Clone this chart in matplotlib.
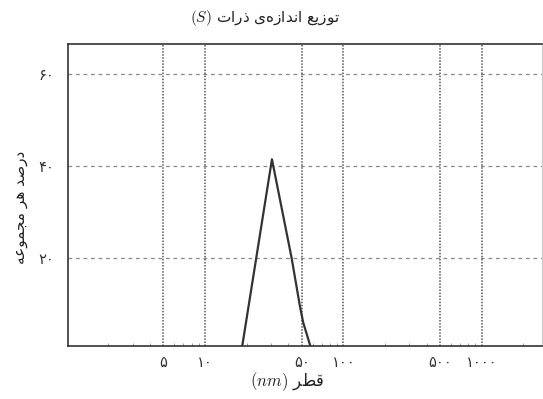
import matplotlib
matplotlib.use("Agg")
import matplotlib.pyplot as plt
from matplotlib.ticker import FixedLocator, LogLocator, NullFormatter

plt.rcParams['font.family'] = ['DejaVu Sans']
plt.rcParams['mathtext.fontset'] = 'cm'

# داده‌ها
diam = [18.4, 30.5, 42.3, 48.6, 51.3, 59.0]
percent = [0, 41.4, 20, 9.5, 6, 0]

x_ticks = [5, 10, 50, 100, 500, 1000]
x_tick_labels = ['۵', '۱۰', '۵۰', '۱۰۰', '۵۰۰', '۱۰۰۰']
y_ticks = [20, 40, 60]
y_tick_labels = ['۲۰', '۴۰', '۶۰']

title_fa = 'توزیع اندازه‌ی ذرات'
xlabel_fa = 'قطر'
ylabel_fa = 'درصد هر مجموعه'

# matplotlib حروف را به هم نمی‌چسباند، پس شکل‌ها را دستی انتخاب می‌کنیم
# (تنها, پایانی, آغازی, میانی)
FORMS = {
    'ا': ('\uFE8D', '\uFE8E', None, None),
    'ت': ('\uFE95', '\uFE96', '\uFE97', '\uFE98'),
    'ج': ('\uFE9D', '\uFE9E', '\uFE9F', '\uFEA0'),
    'د': ('\uFEA9', '\uFEAA', None, None),
    'ذ': ('\uFEAB', '\uFEAC', None, None),
    'ر': ('\uFEAD', '\uFEAE', None, None),
    'ز': ('\uFEAF', '\uFEB0', None, None),
    'ص': ('\uFEB9', '\uFEBA', '\uFEBB', '\uFEBC'),
    'ط': ('\uFEC1', '\uFEC2', '\uFEC3', '\uFEC4'),
    'ع': ('\uFEC9', '\uFECA', '\uFECB', '\uFECC'),
    'ق': ('\uFED5', '\uFED6', '\uFED7', '\uFED8'),
    'م': ('\uFEE1', '\uFEE2', '\uFEE3', '\uFEE4'),
    'ن': ('\uFEE5', '\uFEE6', '\uFEE7', '\uFEE8'),
    'ه': ('\uFEE9', '\uFEEA', '\uFEEB', '\uFEEC'),
    'و': ('\uFEED', '\uFEEE', None, None),
    'ی': ('\uFEEF', '\uFEF0', '\uFEF3', '\uFEF4'),
}


def shape(text):
    out = []
    n = len(text)
    for i, c in enumerate(text):
        if c not in FORMS:
            if c != '\u200c':
                out.append(c)
            continue
        prev = text[i - 1] if i > 0 else ''
        nxt = text[i + 1] if i < n - 1 else ''
        join_prev = prev in FORMS and FORMS[prev][2] is not None
        join_next = nxt in FORMS and FORMS[c][2] is not None
        iso, fin, ini, med = FORMS[c]
        if join_prev and join_next:
            out.append(med)
        elif join_prev:
            out.append(fin)
        elif join_next:
            out.append(ini)
        else:
            out.append(iso)
    return ''.join(out)[::-1]


fig = plt.figure(figsize=(5.43, 3.99), dpi=100)
ax = fig.add_axes([0.1258, 0.1316, 0.8725, 0.7581])

ax.plot(diam, percent, color='#333333', lw=1.6)

ax.set_xscale('log')
ax.set_xlim(1.03, 2730)
ax.set_ylim(0.8, 66.4)

ax.xaxis.set_major_locator(FixedLocator(x_ticks))
ax.set_xticklabels(x_tick_labels)
ax.xaxis.set_minor_locator(LogLocator(base=10, subs=range(2, 10), numticks=20))
ax.xaxis.set_minor_formatter(NullFormatter())
ax.set_yticks(y_ticks)
ax.set_yticklabels(y_tick_labels)

ax.tick_params(axis='x', which='major', length=0, pad=6, labelsize=10.5, colors='#333333')
ax.tick_params(axis='x', which='minor', length=2.5, direction='in', color='#888888')
ax.tick_params(axis='y', which='major', length=0, pad=10, labelsize=10.5, colors='#333333')

for t in x_ticks:
    ax.axvline(t, color='#555555', lw=1.1, ls=(0, (1, 1)), zorder=0)
for t in y_ticks:
    ax.axhline(t, color='#888888', lw=0.9, ls=(0, (3, 3)), zorder=0)

for s in ['left', 'top', 'bottom']:
    ax.spines[s].set_color('#333333')
    ax.spines[s].set_linewidth(1.2)
ax.spines['right'].set_color('#cccccc')
ax.spines['right'].set_linewidth(0.8)

fig.text(0.488, 0.955, r'$(S)$ ' + shape(title_fa), ha='center', va='center',
         fontsize=11, color='#222222')
fig.text(0.528, 0.043, r'$(nm)$ ' + shape(xlabel_fa), ha='center', va='center',
         fontsize=12, color='#222222')
fig.text(0.037, 0.48, shape(ylabel_fa), ha='center', va='center', rotation=90,
         fontsize=11, color='#222222')

fig.savefig('out.png', dpi=100)
